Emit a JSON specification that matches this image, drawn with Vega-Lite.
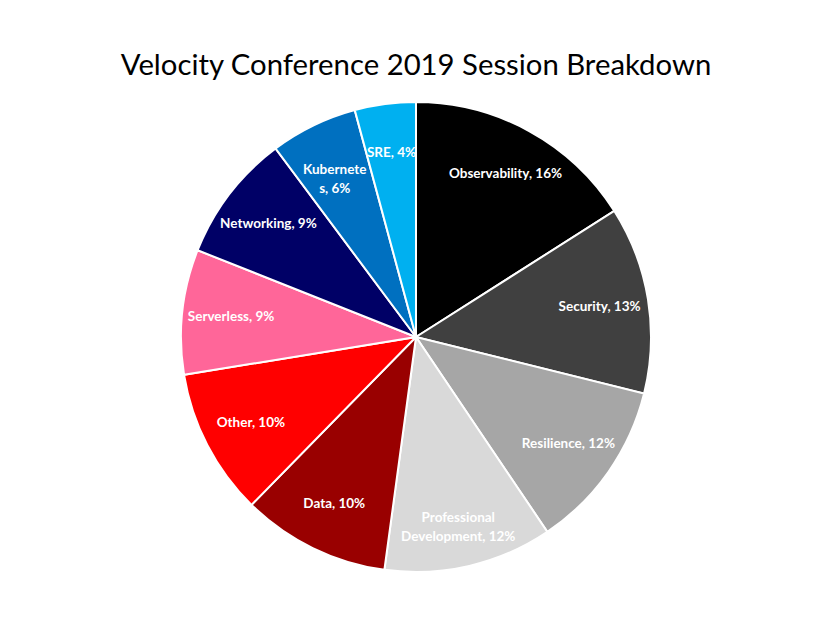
{
  "$schema": "https://vega.github.io/schema/vega-lite/v6.json",
  "autosize": "none",
  "padding": {"top": 52, "left": 0, "right": 0, "bottom": 0},
  "width": 832,
  "height": 570,
  "background": "white",
  "title": {
    "text": "Velocity Conference 2019 Session Breakdown",
    "font": "Lato",
    "fontSize": 29.3,
    "fontWeight": "normal",
    "color": "black",
    "anchor": "middle",
    "offset": -29
  },
  "data": {
    "values": [
      {"idx": 1, "topic": "Observability", "share": 16.0, "label": "Observability, 16%"},
      {"idx": 2, "topic": "Security", "share": 12.9, "label": "Security, 13%"},
      {"idx": 3, "topic": "Resilience", "share": 11.7, "label": "Resilience, 12%"},
      {"idx": 4, "topic": "Professional Development", "share": 11.6, "label": "Professional\nDevelopment, 12%"},
      {"idx": 5, "topic": "Data", "share": 10.2, "label": "Data, 10%"},
      {"idx": 6, "topic": "Other", "share": 10.1, "label": "Other, 10%"},
      {"idx": 7, "topic": "Serverless", "share": 8.6, "label": "Serverless, 9%"},
      {"idx": 8, "topic": "Networking", "share": 8.8, "label": "Networking, 9%"},
      {"idx": 9, "topic": "Kubernetes", "share": 6.0, "label": "Kubernete\ns, 6%"},
      {"idx": 10, "topic": "SRE", "share": 4.2, "label": "SRE, 4%"}
    ]
  },
  "encoding": {
    "theta": {"field": "share", "type": "quantitative", "stack": true},
    "order": {"field": "idx", "type": "quantitative"}
  },
  "layer": [
    {
      "mark": {"type": "arc", "outerRadius": 235, "stroke": "white", "strokeWidth": 2},
      "encoding": {
        "color": {
          "field": "topic",
          "type": "nominal",
          "legend": null,
          "scale": {
            "domain": ["Observability", "Security", "Resilience", "Professional Development", "Data", "Other", "Serverless", "Networking", "Kubernetes", "SRE"],
            "range": ["#000000", "#404040", "#a6a6a6", "#d9d9d9", "#990000", "#ff0000", "#ff6699", "#000066", "#0070c0", "#00b0f0"]
          }
        }
      }
    },
    {
      "mark": {"type": "text", "radius": 186, "font": "Lato", "fontSize": 13.5, "fontWeight": "bold", "fill": "white", "lineBreak": "\n", "lineHeight": 19},
      "encoding": {
        "text": {"field": "label", "type": "nominal"}
      }
    }
  ],
  "config": {"view": {"stroke": null}}
}
